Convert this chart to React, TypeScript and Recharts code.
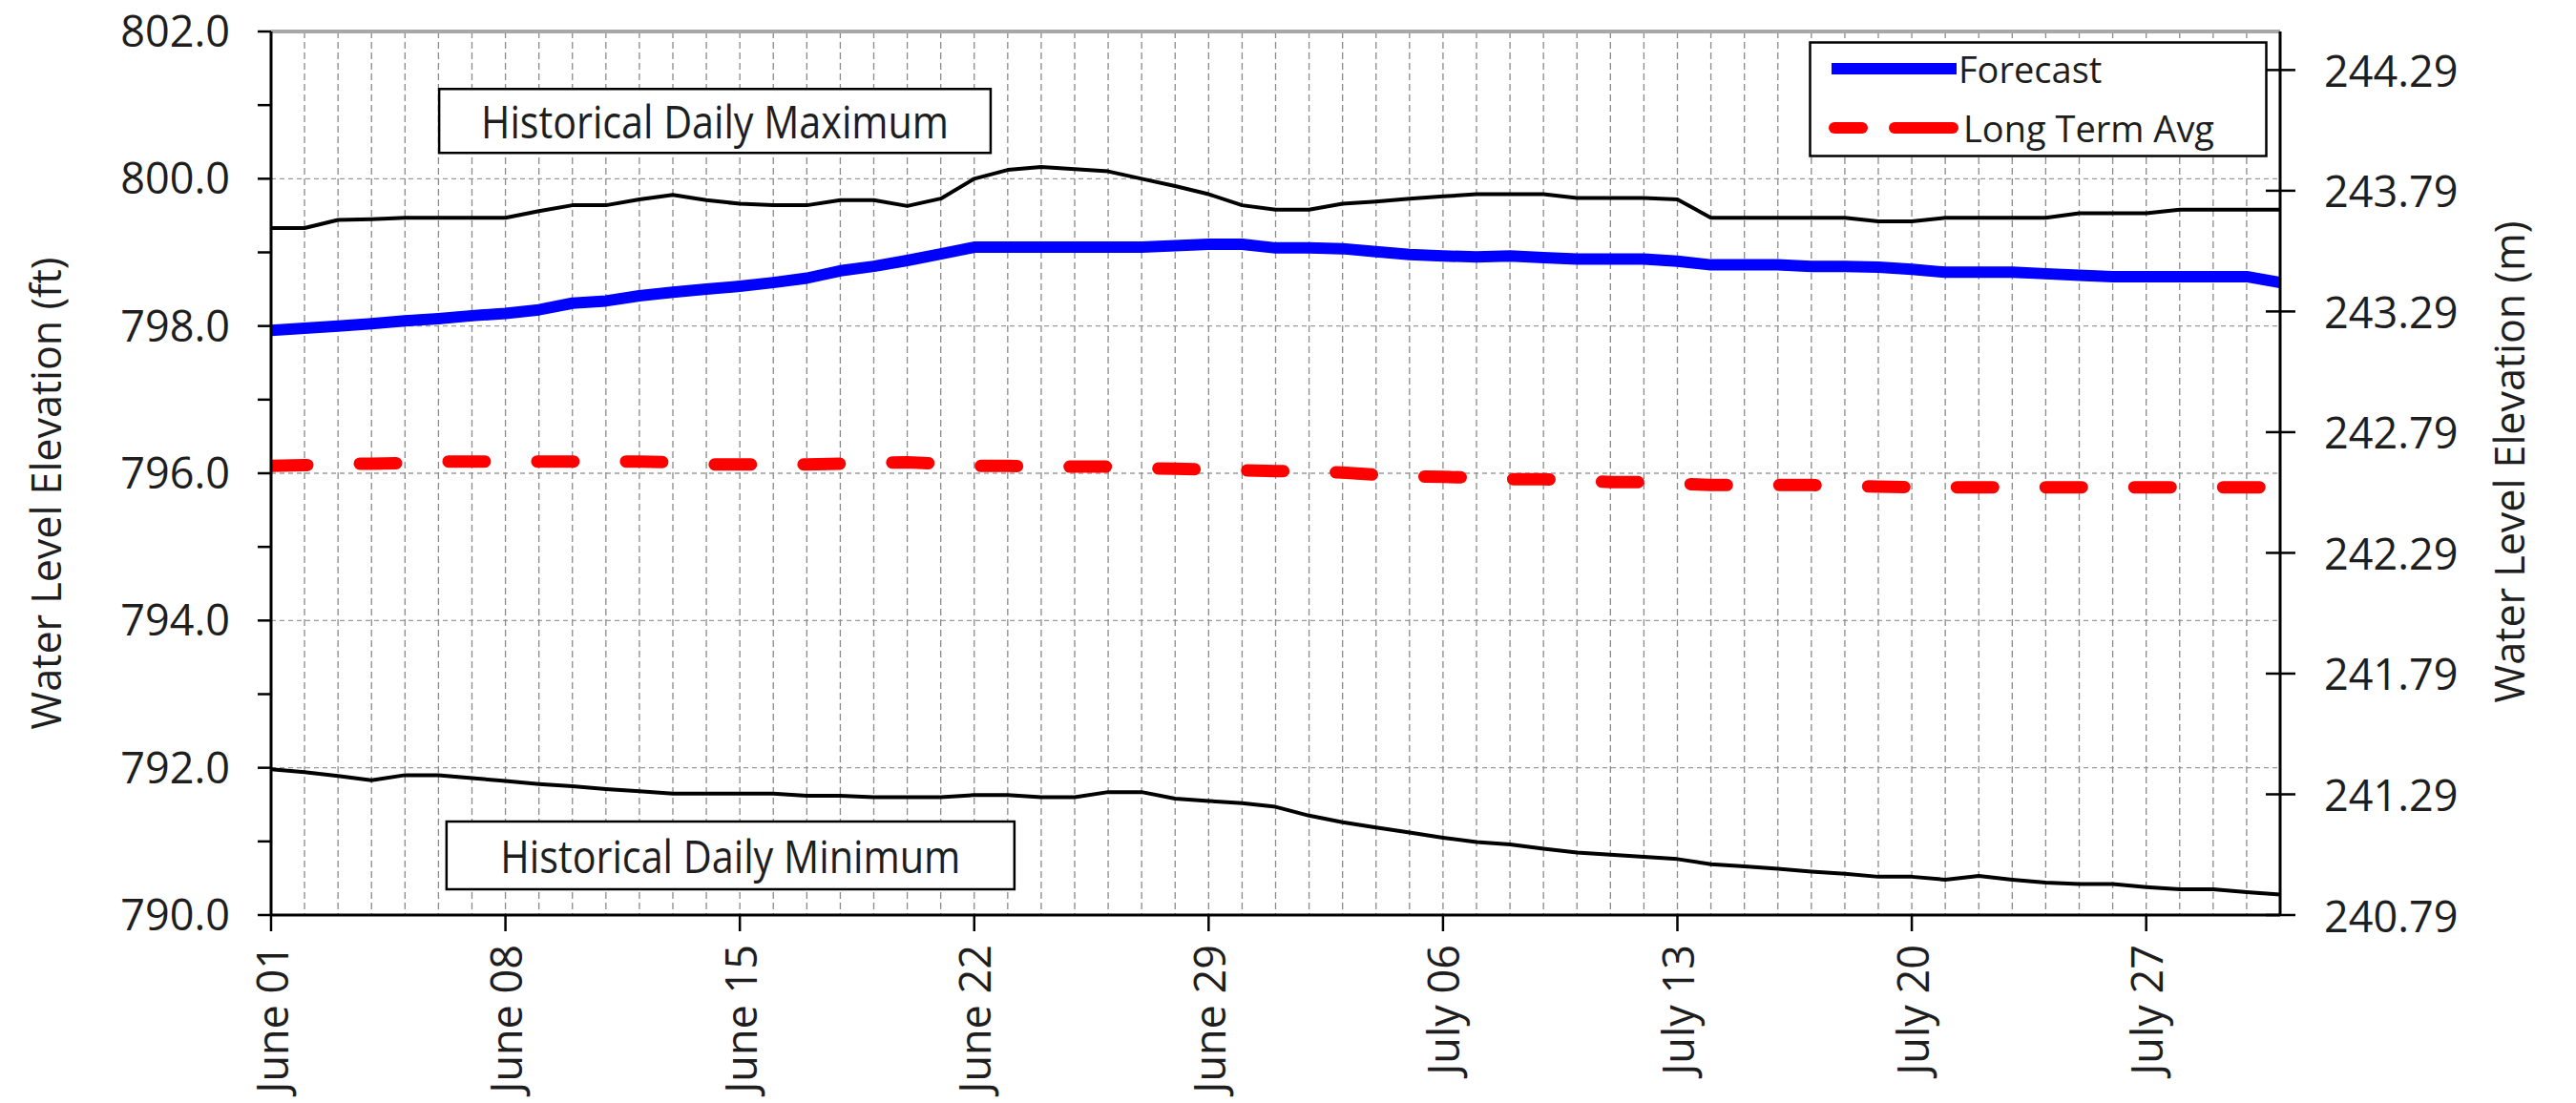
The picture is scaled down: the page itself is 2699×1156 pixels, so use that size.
import {
  ComposedChart,
  Line,
  XAxis,
  YAxis,
  CartesianGrid,
  ReferenceLine,
  ReferenceArea,
  Legend,
} from 'recharts';

const FONT = '"Open Sans", "DejaVu Sans", sans-serif';
const INK = '#1e1e1e';

// day offsets from June 01 (June 01 .. July 31)
const days = Array.from({ length: 61 }, (_, i) => i);

const forecast = [
  797.94, 797.97, 798.0, 798.03, 798.07, 798.1, 798.14, 798.17, 798.22, 798.31,
  798.34, 798.41, 798.46, 798.5, 798.54, 798.59, 798.65, 798.75, 798.81, 798.89,
  798.98, 799.07, 799.07, 799.07, 799.07, 799.07, 799.07, 799.09, 799.11, 799.11,
  799.06, 799.06, 799.05, 799.01, 798.97, 798.95, 798.94, 798.95, 798.93, 798.91,
  798.91, 798.91, 798.88, 798.83, 798.83, 798.83, 798.81, 798.81, 798.8, 798.77,
  798.73, 798.73, 798.73, 798.71, 798.69, 798.67, 798.67, 798.67, 798.67, 798.67,
  798.59,
];

const histMax = [
  799.33, 799.33, 799.44, 799.45, 799.47, 799.47, 799.47, 799.47, 799.56, 799.64,
  799.64, 799.72, 799.78, 799.71, 799.66, 799.64, 799.64, 799.71, 799.71, 799.63,
  799.73, 800.0, 800.12, 800.16, 800.13, 800.1, 800.0, 799.9, 799.79, 799.64,
  799.58, 799.58, 799.66, 799.69, 799.73, 799.76, 799.79, 799.79, 799.79, 799.74,
  799.74, 799.74, 799.72, 799.47, 799.47, 799.47, 799.47, 799.47, 799.42, 799.42,
  799.47, 799.47, 799.47, 799.47, 799.53, 799.53, 799.53, 799.58, 799.58, 799.58,
  799.58,
];

const histMin = [
  791.98, 791.94, 791.89, 791.83, 791.9, 791.9, 791.86, 791.82, 791.78, 791.75,
  791.71, 791.68, 791.65, 791.65, 791.65, 791.65, 791.62, 791.62, 791.6, 791.6,
  791.6, 791.63, 791.63, 791.6, 791.6, 791.67, 791.67, 791.58, 791.55, 791.52,
  791.47, 791.35, 791.26, 791.19, 791.12, 791.05, 790.99, 790.96, 790.9, 790.85,
  790.82, 790.79, 790.76, 790.69, 790.66, 790.63, 790.59, 790.56, 790.52, 790.52,
  790.48, 790.53, 790.48, 790.44, 790.42, 790.42, 790.38, 790.35, 790.35, 790.31,
  790.28,
];

const longTermAvg = [
  796.1, 796.11, 796.13, 796.13, 796.14, 796.16, 796.16, 796.16, 796.16, 796.16,
  796.16, 796.16, 796.15, 796.12, 796.12, 796.12, 796.12, 796.13, 796.14, 796.15,
  796.13, 796.1, 796.1, 796.09, 796.09, 796.09, 796.07, 796.06, 796.05, 796.04,
  796.03, 796.02, 796.01, 795.98, 795.96, 795.95, 795.94, 795.92, 795.92, 795.9,
  795.88, 795.88, 795.86, 795.84, 795.84, 795.84, 795.84, 795.83, 795.82, 795.81,
  795.81, 795.81, 795.81, 795.81, 795.81, 795.81, 795.81, 795.81, 795.81, 795.81,
  795.81,
];

const xTickDays = [0, 7, 14, 21, 28, 35, 42, 49, 56];
const xTickLabels = ['June 01', 'June 08', 'June 15', 'June 22', 'June 29', 'July 06', 'July 13', 'July 20', 'July 27'];
const ftTicks = [790, 791, 792, 793, 794, 795, 796, 797, 798, 799, 800, 801, 802];
const ftGrid = [790, 792, 794, 796, 798, 800, 802];
const mTicks = [240.79, 241.29, 241.79, 242.29, 242.79, 243.29, 243.79, 244.29];

const rows = days.map((day, i) => ({
  day,
  forecast: forecast[i],
  histMax: histMax[i],
  histMin: histMin[i],
  longTermAvg: longTermAvg[i],
}));

// annotation boxes (data coordinates)
const maxBox = { x1: 5.02, x2: 21.49, y1: 800.35, y2: 801.22 };
const minBox = { x1: 5.24, x2: 22.2, y1: 790.35, y2: 791.27 };

const R_TICK = 16;
const R_MARGIN = 30;

function XTick(props: any) {
  const { x, y, payload } = props;
  const idx = xTickDays.indexOf(payload.value);
  return (
    <text
      x={x}
      y={y}
      transform={`rotate(-90 ${x} ${y})`}
      textAnchor="end"
      dominantBaseline="central"
      fontSize={45}
      fontFamily={FONT}
      fill={INK}
    >
      {idx >= 0 ? xTickLabels[idx] : ''}
    </text>
  );
}

function RightTick(props: any) {
  const { x, y, payload } = props;
  const ax = x - R_TICK - R_MARGIN;
  return (
    <g>
      <line x1={ax - 15} x2={ax} y1={y} y2={y} stroke="#000" strokeWidth={2.5} />
      <text x={x} y={y} textAnchor="start" dominantBaseline="central" fontSize={45} fontFamily={FONT} fill={INK}>
        {Number(payload.value).toFixed(2)}
      </text>
    </g>
  );
}

function AxisTitle(props: any) {
  const { cx, cy, caption } = props;
  return (
    <text
      x={cx}
      y={cy}
      transform={`rotate(-90 ${cx} ${cy})`}
      textAnchor="middle"
      dominantBaseline="central"
      fontSize={43}
      fontFamily={FONT}
      fill={INK}
    >
      {caption}
    </text>
  );
}

function BoxText(props: any) {
  const { viewBox, caption, textW } = props;
  if (!viewBox) return null;
  const cx = viewBox.x + viewBox.width / 2;
  const cy = viewBox.y + viewBox.height / 2;
  return (
    <text
      x={cx}
      y={cy}
      textAnchor="middle"
      dominantBaseline="central"
      fontSize={48}
      fontFamily={FONT}
      fill={INK}
      textLength={textW}
      lengthAdjust="spacingAndGlyphs"
    >
      {caption}
    </text>
  );
}

function LegendBox(props: any) {
  const entries = (props.payload || []).filter((e: any) => e.type !== 'none');
  return (
    <svg width={481} height={122} style={{ display: 'block' }}>
      <rect x={1.5} y={1.5} width={478} height={119} fill="#fff" stroke="#000" strokeWidth={2.5} />
      {entries.map((e: any, i: number) => {
        const cy = 29 + i * 62;
        const dashed = !!(e.payload && e.payload.strokeDasharray);
        return (
          <g key={e.value}>
            {dashed ? (
              <>
                <line x1={27} x2={56} y1={cy} y2={cy} stroke={e.color} strokeWidth={12} strokeLinecap="round" />
                <line x1={90} x2={151} y1={cy} y2={cy} stroke={e.color} strokeWidth={12} strokeLinecap="round" />
              </>
            ) : (
              <line x1={24} x2={155} y1={cy} y2={cy} stroke={e.color} strokeWidth={12} />
            )}
            <text x={dashed ? 162 : 157} y={cy} dominantBaseline="central" fontSize={38} fontFamily={FONT} fill={INK}>
              {e.value}
            </text>
          </g>
        );
      })}
    </svg>
  );
}

export default function App() {
  return (
    <div style={{ position: 'absolute', left: 0, top: 0, width: 2699, height: 1156, background: '#fff' }}>
      <ComposedChart width={2699} height={1156} data={rows} margin={{ top: 33, right: 0, bottom: 0, left: 0 }}>
        <CartesianGrid
          yAxisId="ft"
          vertical={false}
          horizontalValues={ftGrid}
          stroke="#9a9a9a"
          strokeWidth={1.3}
          strokeDasharray="5 4"
        />
        <CartesianGrid
          yAxisId="ft"
          horizontal={false}
          verticalValues={days}
          stroke="#8a8a8a"
          strokeWidth={1.3}
          strokeDasharray="7 4"
        />
        <XAxis
          type="number"
          dataKey="day"
          domain={[0, 60]}
          ticks={xTickDays}
          interval={0}
          height={197}
          tickSize={17}
          tickMargin={14}
          tick={<XTick />}
          axisLine={{ stroke: '#000', strokeWidth: 3 }}
          tickLine={{ stroke: '#000', strokeWidth: 2.5 }}
          allowDataOverflow
        />
        <YAxis
          yAxisId="ft"
          type="number"
          domain={[790, 802]}
          ticks={ftTicks}
          interval={0}
          width={284}
          tickSize={14}
          tickMargin={29}
          tickFormatter={(v: number) => (v % 2 === 0 ? v.toFixed(1) : '')}
          tick={{ fill: INK, fontSize: 45, fontFamily: FONT }}
          axisLine={{ stroke: '#000', strokeWidth: 3 }}
          tickLine={{ stroke: '#000', strokeWidth: 2.5 }}
          label={<AxisTitle cx={47} cy={517} caption="Water Level Elevation (ft)" />}
          allowDataOverflow
        />
        <YAxis
          yAxisId="m"
          orientation="right"
          type="number"
          domain={[240.79, 244.4496]}
          ticks={mTicks}
          interval={0}
          width={310}
          tickSize={R_TICK}
          tickMargin={R_MARGIN}
          tick={<RightTick />}
          axisLine={{ stroke: '#000', strokeWidth: 3 }}
          tickLine={{ stroke: '#000', strokeWidth: 2.5 }}
          label={<AxisTitle cx={2628} cy={484} caption="Water Level Elevation (m)" />}
          allowDataOverflow
        />
        <ReferenceLine yAxisId="ft" y={802} stroke="#a8a8a8" strokeWidth={4} />
        <ReferenceArea
          yAxisId="ft"
          x1={maxBox.x1}
          x2={maxBox.x2}
          y1={maxBox.y1}
          y2={maxBox.y2}
          fill="#fff"
          fillOpacity={1}
          stroke="#000"
          strokeWidth={2.5}
          ifOverflow="visible"
          label={<BoxText caption="Historical Daily Maximum" textW={490} />}
        />
        <ReferenceArea
          yAxisId="ft"
          x1={minBox.x1}
          x2={minBox.x2}
          y1={minBox.y1}
          y2={minBox.y2}
          fill="#fff"
          fillOpacity={1}
          stroke="#000"
          strokeWidth={2.5}
          ifOverflow="visible"
          label={<BoxText caption="Historical Daily Minimum" textW={482} />}
        />
        <Line
          yAxisId="ft"
          type="linear"
          dataKey="histMax"
          name="Historical Daily Maximum"
          stroke="#000"
          strokeWidth={4}
          strokeLinejoin="round"
          dot={false}
          activeDot={false}
          legendType="none"
          isAnimationActive={false}
        />
        <Line
          yAxisId="ft"
          type="linear"
          dataKey="histMin"
          name="Historical Daily Minimum"
          stroke="#000"
          strokeWidth={4}
          strokeLinejoin="round"
          dot={false}
          activeDot={false}
          legendType="none"
          isAnimationActive={false}
        />
        <Line
          yAxisId="ft"
          type="linear"
          dataKey="forecast"
          name="Forecast"
          stroke="#0000ff"
          strokeWidth={12}
          strokeLinejoin="round"
          dot={false}
          activeDot={false}
          isAnimationActive={false}
        />
        <Line
          yAxisId="ft"
          type="linear"
          dataKey="longTermAvg"
          name="Long Term Avg"
          stroke="#ff0000"
          strokeWidth={13}
          strokeDasharray="38 55"
          strokeLinecap="round"
          dot={false}
          activeDot={false}
          isAnimationActive={false}
        />
        <Legend
          layout="vertical"
          align="center"
          verticalAlign="middle"
          content={<LegendBox />}
          wrapperStyle={{ position: 'absolute', left: 1895, top: 43, width: 481, height: 122 }}
        />
      </ComposedChart>
    </div>
  );
}
